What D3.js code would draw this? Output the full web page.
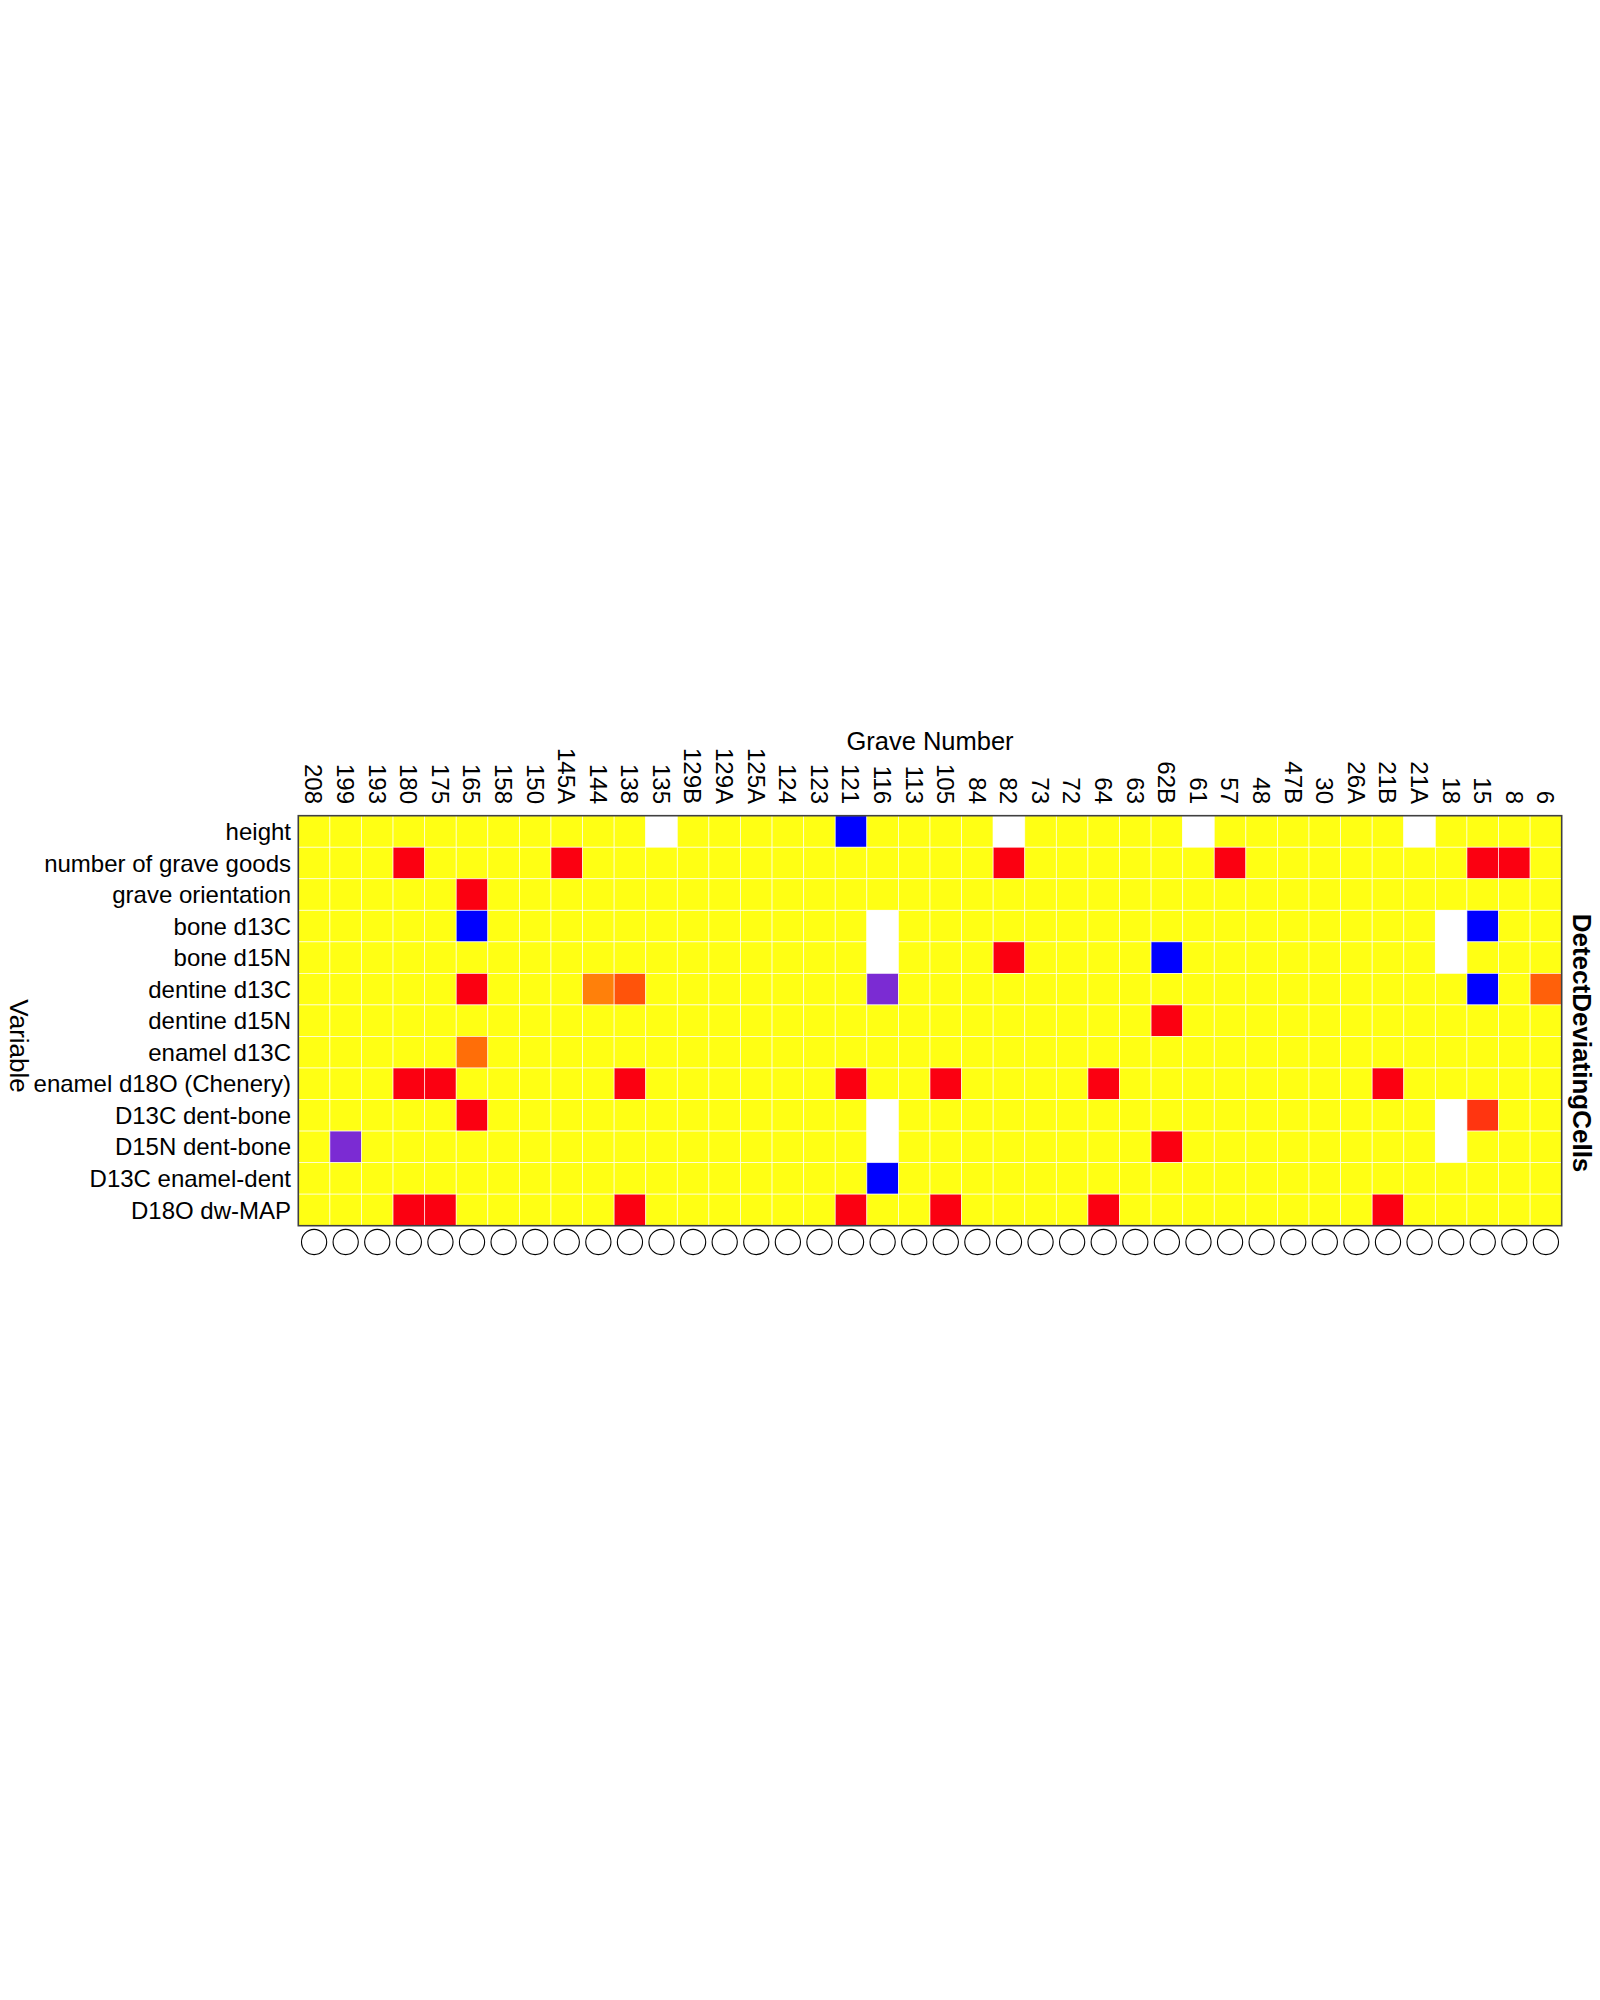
<!DOCTYPE html>
<html>
<head>
<meta charset="utf-8">
<script src="https://cdn.jsdelivr.net/npm/d3@7"></script>
<style>
  body { margin: 0; background: #fff; }
  text { font-family: "Liberation Sans", Arial, sans-serif; fill: #000; }
</style>
</head>
<body>
<div id="chart"></div>
<script>
// Grave numbers (columns, left to right)
const graves = ["208", "199", "193", "180", "175", "165", "158", "150", "145A", "144", "138", "135",
  "129B", "129A", "125A", "124", "123", "121", "116", "113", "105", "84", "82", "73", "72", "64",
  "63", "62B", "61", "57", "48", "47B", "30", "26A", "21B", "21A", "18", "15", "8", "6"]

// Variables (rows, top to bottom)
const variables = ["height", "number of grave goods", "grave orientation", "bone d13C", "bone d15N",
  "dentine d13C", "dentine d15N", "enamel d13C", "enamel d18O (Chenery)", "D13C dent-bone",
  "D15N dent-bone", "D13C enamel-dent", "D18O dw-MAP"]

// Flagged cells: variable, grave, deviation class (everything else is regular)
const flagged = [
  ["height", "135", "missing"], ["height", "121", "low"], ["height", "82", "missing"],
  ["height", "61", "missing"], ["height", "21A", "missing"],
  ["number of grave goods", "180", "high"], ["number of grave goods", "145A", "high"],
  ["number of grave goods", "82", "high"], ["number of grave goods", "57", "high"],
  ["number of grave goods", "15", "high"], ["number of grave goods", "8", "high"],
  ["grave orientation", "165", "high"],
  ["bone d13C", "165", "low"], ["bone d13C", "116", "missing"], ["bone d13C", "18", "missing"],
  ["bone d13C", "15", "low"],
  ["bone d15N", "116", "missing"], ["bone d15N", "82", "high"], ["bone d15N", "62B", "low"],
  ["bone d15N", "18", "missing"],
  ["dentine d13C", "165", "high"], ["dentine d13C", "144", "high3"], ["dentine d13C", "138", "high2"],
  ["dentine d13C", "116", "mixed"], ["dentine d13C", "15", "low"], ["dentine d13C", "6", "high2b"],
  ["dentine d15N", "62B", "high"],
  ["enamel d13C", "165", "high3b"],
  ["enamel d18O (Chenery)", "180", "high"], ["enamel d18O (Chenery)", "175", "high"],
  ["enamel d18O (Chenery)", "138", "high"], ["enamel d18O (Chenery)", "121", "high"],
  ["enamel d18O (Chenery)", "105", "high"], ["enamel d18O (Chenery)", "64", "high"],
  ["enamel d18O (Chenery)", "21B", "high"],
  ["D13C dent-bone", "165", "high"], ["D13C dent-bone", "116", "missing"],
  ["D13C dent-bone", "18", "missing"], ["D13C dent-bone", "15", "high1"],
  ["D15N dent-bone", "199", "mixed"], ["D15N dent-bone", "116", "missing"],
  ["D15N dent-bone", "62B", "high"], ["D15N dent-bone", "18", "missing"],
  ["D13C enamel-dent", "116", "low"],
  ["D18O dw-MAP", "180", "high"], ["D18O dw-MAP", "175", "high"], ["D18O dw-MAP", "138", "high"],
  ["D18O dw-MAP", "121", "high"], ["D18O dw-MAP", "105", "high"], ["D18O dw-MAP", "64", "high"],
  ["D18O dw-MAP", "21B", "high"]
]

const classes = ["regular", "high", "high1", "high2", "high2b", "high3b", "high3", "low", "mixed", "missing"]
const classColors = ["#ffff14", "#fb0011", "#ff3510", "#ff530a", "#ff600a", "#ff6e08", "#ff800a", "#0000ff", "#7b2bd3", "#ffffff"]

// build full matrix
const lookup = new Map(flagged.map(d => [d[0] + "|" + d[1], d[2]]))
const cells = []
variables.forEach(v => {
  graves.forEach(g => {
    cells.push({variable: v, grave: g, cls: lookup.get(v + "|" + g) || "regular"})
  })
})

const width = 1600, height = 2000
const svg = d3.select("#chart").append("svg")
  .attr("width", width)
  .attr("height", height)

// Scales
let x = d3.scaleBand().domain(graves).range([298.3, 1561.7])
let y = d3.scaleBand().domain(variables).range([815.7, 1225.7])
let color = d3.scaleOrdinal().domain(classes).range(classColors)

// Cells
svg.append("g")
  .selectAll("rect")
  .data(cells)
  .enter()
  .append("rect")
  .attr("x", d => x(d.grave))
  .attr("y", d => y(d.variable))
  .attr("width", x.bandwidth())
  .attr("height", y.bandwidth())
  .attr("fill", d => color(d.cls))
  .attr("stroke", "rgba(255,255,255,0.75)")
  .attr("stroke-width", 0.8)

// Frame
svg.append("rect")
  .attr("x", x.range()[0])
  .attr("y", y.range()[0])
  .attr("width", x.range()[1] - x.range()[0])
  .attr("height", y.range()[1] - y.range()[0])
  .attr("fill", "none")
  .attr("stroke", "#404040")
  .attr("stroke-width", 1.6)

// Column labels (rotated)
svg.append("g")
  .selectAll("text")
  .data(graves)
  .enter()
  .append("text")
  .attr("transform", d => "translate(" + (x(d) + x.bandwidth() / 2) + ",804)rotate(90)")
  .attr("text-anchor", "end")
  .attr("dy", "0.36em")
  .style("font-size", "24px")
  .text(d => d)

// Row labels
svg.append("g")
  .selectAll("text")
  .data(variables)
  .enter()
  .append("text")
  .attr("x", 291)
  .attr("y", d => y(d) + y.bandwidth() / 2)
  .attr("dy", "0.36em")
  .attr("text-anchor", "end")
  .style("font-size", "24px")
  .text(d => d)

// Circles under each column
svg.append("g")
  .selectAll("circle")
  .data(graves)
  .enter()
  .append("circle")
  .attr("cx", d => x(d) + x.bandwidth() / 2)
  .attr("cy", 1242)
  .attr("r", 12.6)
  .attr("fill", "#fff")
  .attr("stroke", "#000")
  .attr("stroke-width", 1.1)

// Titles
svg.append("text")
  .attr("x", (x.range()[0] + x.range()[1]) / 2)
  .attr("y", 750)
  .attr("text-anchor", "middle")
  .style("font-size", "25.5px")
  .text("Grave Number")

svg.append("text")
  .attr("transform", "translate(19,1046)rotate(90)")
  .attr("text-anchor", "middle")
  .attr("dy", "0.36em")
  .style("font-size", "26px")
  .text("Variable")

svg.append("text")
  .attr("transform", "translate(1582,1043)rotate(90)")
  .attr("text-anchor", "middle")
  .attr("dy", "0.36em")
  .style("font-size", "26px")
  .style("font-weight", "bold")
  .text("DetectDeviatingCells")
</script>
</body>
</html>
